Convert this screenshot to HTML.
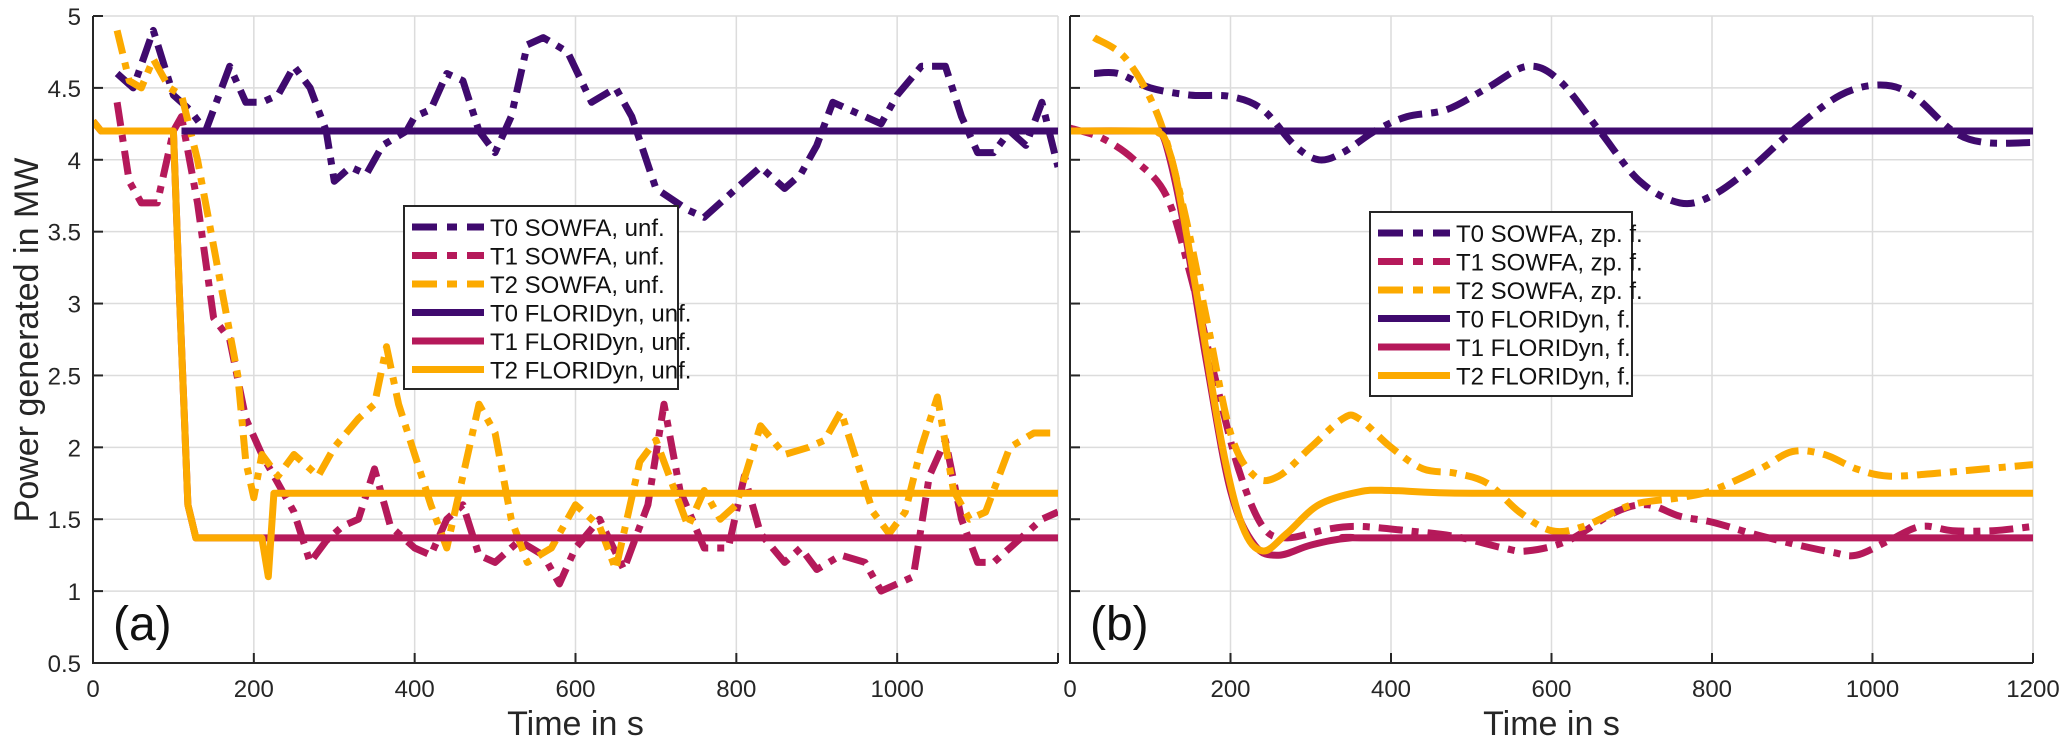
<!DOCTYPE html>
<html><head><meta charset="utf-8"><style>
body{margin:0;background:#fff}
svg{display:block;font-family:"Liberation Sans",Arial,sans-serif}
</style></head><body>
<svg id="c" width="2067" height="743" viewBox="0 0 2067 743"></svg>
<script>
const yTicks=[0.5,1,1.5,2,2.5,3,3.5,4,4.5,5];
const xTicks=[0,200,400,600,800,1000,1200];
// Panel (a) SOWFA unfiltered
const a_t0_t=[30,50,75,100,120,140,160,170,190,210,230,250,270,290,300,320,340,360,390,400,420,440,460,480,500,520,540,560,590,620,650,670,700,740,760,780,800,830,860,880,900,920,940,960,980,1000,1030,1060,1080,1100,1120,1140,1160,1180,1200];
const a_t0_v=[4.6,4.5,4.9,4.45,4.35,4.2,4.5,4.65,4.4,4.4,4.45,4.65,4.5,4.2,3.85,3.95,3.9,4.1,4.2,4.3,4.35,4.6,4.55,4.2,4.05,4.3,4.8,4.85,4.75,4.4,4.5,4.3,3.8,3.65,3.6,3.7,3.8,3.95,3.8,3.9,4.1,4.4,4.35,4.3,4.25,4.45,4.65,4.65,4.3,4.05,4.05,4.2,4.1,4.4,3.95];
const a_t1_t=[30,45,60,80,100,110,130,150,170,190,210,230,250,270,290,310,330,350,370,400,420,440,460,480,500,530,560,580,600,630,660,690,710,730,760,790,810,830,860,880,900,930,960,980,1000,1020,1040,1060,1080,1100,1120,1150,1180,1200];
const a_t1_v=[4.4,3.85,3.7,3.7,4.2,4.3,3.7,2.9,2.75,2.2,1.95,1.75,1.55,1.2,1.35,1.45,1.5,1.85,1.45,1.3,1.25,1.5,1.6,1.25,1.2,1.35,1.25,1.05,1.3,1.5,1.15,1.6,2.3,1.7,1.3,1.3,1.8,1.4,1.2,1.3,1.15,1.25,1.2,1.0,1.05,1.1,1.8,2.05,1.5,1.2,1.2,1.35,1.5,1.55];
const a_t2_t=[30,45,60,75,95,110,130,150,170,180,190,200,210,230,250,280,300,330,350,365,380,400,420,440,460,480,500,520,540,570,600,630,650,680,700,720,740,760,780,800,830,860,890,910,930,950,970,990,1010,1030,1050,1070,1090,1110,1140,1170,1200];
const a_t2_v=[4.9,4.55,4.5,4.7,4.5,4.45,4.0,3.4,2.8,2.5,1.9,1.65,1.95,1.8,1.95,1.8,2.0,2.2,2.3,2.7,2.3,1.95,1.6,1.3,1.8,2.3,2.1,1.5,1.2,1.3,1.6,1.45,1.15,1.9,2.05,1.75,1.45,1.7,1.5,1.6,2.15,1.95,2.0,2.05,2.25,1.9,1.55,1.4,1.55,2.0,2.35,1.7,1.5,1.55,2.0,2.1,2.1];
// Panel (a) FLORIDyn
const a_f0_t=[110,1200]; const a_f0_v=[4.2,4.2];
const a_f1_t=[0,10,100,108,118,128,1200]; const a_f1_v=[4.27,4.2,4.2,3.0,1.6,1.37,1.37];
const a_f2_t=[0,10,100,108,118,128,210,218,225,1200]; const a_f2_v=[4.27,4.2,4.2,3.0,1.6,1.37,1.37,1.1,1.68,1.68];
// Panel (b) SOWFA zero-phase filtered
const b_t0_t=[30,60,100,150,200,240,280,310,340,380,420,470,520,570,610,660,710,760,800,850,900,960,1010,1050,1100,1140,1200];
const b_t0_v=[4.6,4.6,4.5,4.45,4.44,4.35,4.1,4.0,4.05,4.2,4.3,4.35,4.5,4.65,4.55,4.2,3.85,3.7,3.75,3.95,4.2,4.45,4.52,4.45,4.2,4.12,4.12];
const b_t1_t=[0,40,80,120,150,180,210,240,270,320,360,420,480,540,570,620,680,720,760,800,850,900,950,980,1020,1060,1100,1150,1200];
const b_t1_v=[4.22,4.15,4.0,3.75,3.2,2.5,1.85,1.45,1.37,1.43,1.45,1.42,1.38,1.3,1.28,1.35,1.55,1.6,1.52,1.48,1.4,1.33,1.27,1.25,1.35,1.45,1.42,1.42,1.45];
const b_t2_t=[30,70,110,140,170,200,230,260,300,340,360,400,440,480,520,560,600,640,700,760,800,860,900,940,980,1020,1080,1140,1200];
const b_t2_v=[4.85,4.7,4.3,3.7,2.9,2.1,1.8,1.8,2.0,2.2,2.2,2.0,1.85,1.82,1.75,1.55,1.42,1.45,1.6,1.65,1.7,1.85,1.97,1.95,1.85,1.8,1.82,1.85,1.88];
// Panel (b) FLORIDyn
const b_f0_t=[0,1200]; const b_f0_v=[4.2,4.2];
const b_f1_t=[0,100,110,120,140,170,200,230,260,300,350,420,1200]; const b_f1_v=[4.2,4.2,4.19,4.1,3.6,2.6,1.7,1.32,1.25,1.32,1.37,1.37,1.37];
const b_f2_t=[0,100,110,120,135,160,190,215,240,270,310,360,400,500,800,1200]; const b_f2_v=[4.2,4.2,4.19,4.12,3.8,3.0,2.0,1.45,1.28,1.4,1.6,1.69,1.7,1.68,1.68,1.68];

const C0="#3f0a6e",C1="#b5195a",C2="#fcaa00";
const NS="http://www.w3.org/2000/svg";
const svg=document.getElementById('c');
function mk(tag,at,parent){const e=document.createElementNS(NS,tag);for(const k in at)e.setAttribute(k,at[k]);(parent||svg).appendChild(e);return e;}
const Y0=663,Y1=16;
function ys(v){return Y0-(v-0.5)/4.5*(Y0-Y1);}
const panels=[{x0:93,x1:1058,name:'a'},{x0:1070,x1:2033,name:'b'}];
function xsF(p){return t=>p.x0+t/1200*(p.x1-p.x0);}
function pathFrom(ts,vs,xs,smooth){
  const pts=ts.map((t,i)=>[xs(t),ys(vs[i])]);
  if(!smooth) return 'M'+pts.map(p=>p[0].toFixed(1)+','+p[1].toFixed(1)).join('L');
  let d='M'+pts[0][0]+','+pts[0][1];
  for(let i=0;i<pts.length-1;i++){
    const p0=pts[Math.max(0,i-1)],p1=pts[i],p2=pts[i+1],p3=pts[Math.min(pts.length-1,i+2)];
    const c1=[p1[0]+(p2[0]-p0[0])/6,p1[1]+(p2[1]-p0[1])/6],c2=[p2[0]-(p3[0]-p1[0])/6,p2[1]-(p3[1]-p1[1])/6];
    d+='C'+c1[0].toFixed(1)+','+c1[1].toFixed(1)+' '+c2[0].toFixed(1)+','+c2[1].toFixed(1)+' '+p2[0].toFixed(1)+','+p2[1].toFixed(1);
  }
  return d;
}
const DASH="24 9 7 9";
panels.forEach((p,pi)=>{
  const xs=xsF(p);
  const g=mk('g',{});
  
  
  mk('rect',{x:p.x0,y:Y1,width:p.x1-p.x0,height:Y0-Y1,fill:'#fff'},g);
  yTicks.forEach(v=>{const l=mk('line',{x1:p.x0,x2:p.x1,y1:ys(v),y2:ys(v),stroke:'#dcdcdc','stroke-width':1.5},g);
    });
  xTicks.forEach(t=>{const l=mk('line',{x1:xs(t),x2:xs(t),y1:Y1,y2:Y0,stroke:'#dcdcdc','stroke-width':1.5},g);
    });
  const sets=pi==0?[[a_t0_t,a_t0_v,C0,1],[a_t1_t,a_t1_v,C1,1],[a_t2_t,a_t2_v,C2,1],[a_f0_t,a_f0_v,C0,0],[a_f1_t,a_f1_v,C1,0],[a_f2_t,a_f2_v,C2,0]]
    :[[b_t0_t,b_t0_v,C0,1],[b_t1_t,b_t1_v,C1,1],[b_t2_t,b_t2_v,C2,1],[b_f0_t,b_f0_v,C0,0],[b_f1_t,b_f1_v,C1,0],[b_f2_t,b_f2_v,C2,0]];
  const clipId='clip'+p.name;
  const cp=mk('clipPath',{id:clipId},g);mk('rect',{x:p.x0,y:Y1-8,width:p.x1-p.x0,height:Y0-Y1+8},cp);
  const names=['t0-sowfa-line','t1-sowfa-line','t2-sowfa-line','t0-floridyn-line','t1-floridyn-line','t2-floridyn-line'];
  sets.forEach((s,i)=>{
    const smooth=pi==1;
    const e=mk('path',{d:pathFrom(s[0],s[1],xs,smooth),fill:'none',stroke:s[2],'stroke-width':7,'stroke-linejoin':'round','clip-path':'url(#'+clipId+')'},g);
    if(s[3])e.setAttribute('stroke-dasharray',DASH);
    
    
  });
  mk('path',{d:`M${p.x0},${Y1}V${Y0}H${p.x1}`,fill:'none',stroke:'#262626','stroke-width':2},g);
  xTicks.forEach(t=>{
    mk('line',{x1:xs(t),x2:xs(t),y1:Y0,y2:Y0-10,stroke:'#262626','stroke-width':2},g);
    if(pi==0&&t==1200)return;
    const tx=mk('text',{x:xs(t),y:697,'font-size':24,'text-anchor':'middle',fill:'#262626'},g);tx.textContent=t;
    
  });
  yTicks.forEach(v=>{
    mk('line',{x1:p.x0,x2:p.x0+10,y1:ys(v),y2:ys(v),stroke:'#262626','stroke-width':2},g);
    if(pi==0){const tx=mk('text',{x:p.x0-12,y:ys(v)+9,'font-size':24,'text-anchor':'end',fill:'#262626'},g);tx.textContent=v;
      }
  });
  const lab=mk('text',{x:p.x0+20,y:640,'font-size':48,fill:'#111'},g);lab.textContent='('+p.name+')';
  
  const xl=mk('text',{x:(p.x0+p.x1)/2,y:735,'font-size':34,'text-anchor':'middle',fill:'#262626'},g);xl.textContent='Time in s';
  
  const L=pi==0?{x:404,y:206,w:274,h:183,lab:['T0 SOWFA, unf.','T1 SOWFA, unf.','T2 SOWFA, unf.','T0 FLORIDyn, unf.','T1 FLORIDyn, unf.','T2 FLORIDyn, unf.']}
              :{x:1370,y:212,w:262,h:184,lab:['T0 SOWFA, zp. f.','T1 SOWFA, zp. f.','T2 SOWFA, zp. f.','T0 FLORIDyn, f.','T1 FLORIDyn, f.','T2 FLORIDyn, f.']};
  const lg=mk('g',{},g);
  
  
  mk('rect',{x:L.x,y:L.y,width:L.w,height:L.h,fill:'#fff',stroke:'#262626','stroke-width':2},lg);
  const cols=[C0,C1,C2,C0,C1,C2];
  L.lab.forEach((s,i)=>{
    const yy=L.y+21+i*28.5;
    const ln=mk('line',{x1:L.x+8,x2:L.x+80,y1:yy,y2:yy,stroke:cols[i],'stroke-width':7},lg);
    if(i<3)ln.setAttribute('stroke-dasharray','25 10 10 10 25');
    const tx=mk('text',{x:L.x+86,y:yy+9,'font-size':24,fill:'#111'},lg);tx.textContent=s;
    
  });
});
const yl=mk('text',{x:0,y:0,'font-size':34,'text-anchor':'middle',fill:'#262626',transform:'translate(38,340) rotate(-90)'});
yl.textContent='Power generated in  MW';


</script>
</body></html>
